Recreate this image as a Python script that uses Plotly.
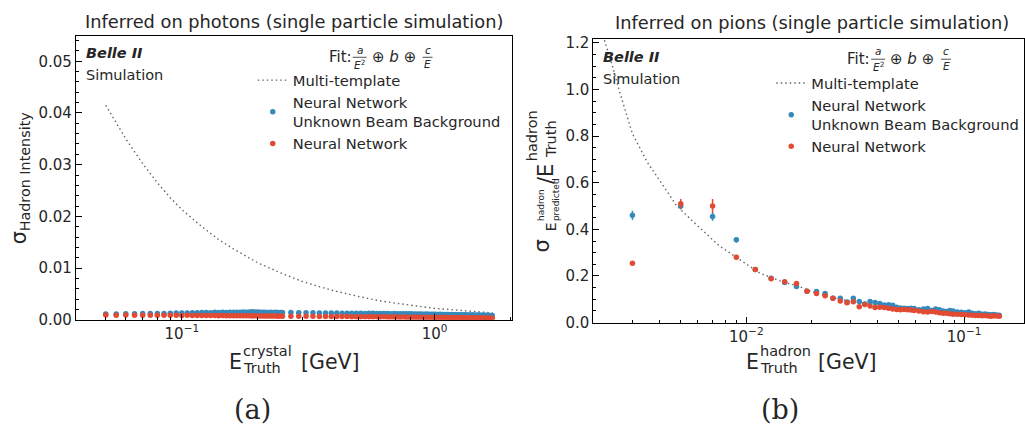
import plotly.graph_objects as go

# ---------------- photons panel (a) ----------------
e_photon = [
    0.050, 0.055, 0.060, 0.065, 0.070, 0.075, 0.080, 0.085, 0.090, 0.095,
    0.100, 0.105, 0.110, 0.115, 0.120, 0.125, 0.130, 0.135, 0.140, 0.145,
    0.150, 0.155, 0.160, 0.165, 0.170, 0.175, 0.180, 0.185, 0.190, 0.195,
    0.200, 0.205, 0.210, 0.215, 0.220, 0.225, 0.230, 0.235, 0.240, 0.245, 0.250,
    0.27, 0.29, 0.31, 0.33, 0.35, 0.37, 0.39, 0.41, 0.43,
    0.45, 0.47, 0.49, 0.51, 0.53, 0.55, 0.57, 0.59, 0.61, 0.63,
    0.65, 0.67, 0.69, 0.71, 0.73, 0.75, 0.77, 0.79, 0.81, 0.83,
    0.85, 0.87, 0.89, 0.91, 0.93, 0.95, 0.97, 0.99, 1.01, 1.03,
    1.05, 1.07, 1.09, 1.11, 1.13, 1.15, 1.17, 1.19, 1.21, 1.23,
    1.25, 1.27, 1.29, 1.31, 1.33, 1.35, 1.37, 1.39, 1.41, 1.43,
    1.45, 1.47, 1.49, 1.51, 1.53, 1.55, 1.57, 1.59, 1.61, 1.63,
    1.65, 1.67, 1.69,
]
sigma_photon_nn_bkg = [
    0.00110, 0.00112, 0.00115, 0.00114, 0.00118, 0.00120, 0.00122, 0.00121, 0.00125, 0.00128,
    0.00130, 0.00132, 0.00135, 0.00133, 0.00138, 0.00140, 0.00137, 0.00142, 0.00141, 0.00144,
    0.00140, 0.00143, 0.00146, 0.00142, 0.00145, 0.00148, 0.00144, 0.00150, 0.00152, 0.00147,
    0.00149, 0.00145, 0.00143, 0.00146, 0.00141, 0.00144, 0.00140, 0.00142, 0.00139, 0.00141, 0.00138,
    0.00140, 0.00137, 0.00135, 0.00136, 0.00132, 0.00130, 0.00128, 0.00129, 0.00126,
    0.00127, 0.00125, 0.00126, 0.00124, 0.00122, 0.00125, 0.00123, 0.00121, 0.00120, 0.00122,
    0.00119, 0.00117, 0.00118, 0.00116, 0.00115, 0.00117, 0.00114, 0.00113, 0.00115, 0.00112,
    0.00110, 0.00112, 0.00109, 0.00108, 0.00110, 0.00107, 0.00105, 0.00106, 0.00104, 0.00103,
    0.00105, 0.00102, 0.00100, 0.00101, 0.00099, 0.00098, 0.00100, 0.00097, 0.00096, 0.00095,
    0.00097, 0.00094, 0.00093, 0.00095, 0.00092, 0.00091, 0.00093, 0.00090, 0.00089, 0.00091,
    0.00088, 0.00087, 0.00089, 0.00086, 0.00085, 0.00087, 0.00084, 0.00083, 0.00085, 0.00082,
    0.00081, 0.00083, 0.00080,
]
sigma_photon_nn = [
    0.00090, 0.00088, 0.00089, 0.00087, 0.00086, 0.00088, 0.00085, 0.00086, 0.00084, 0.00085,
    0.00083, 0.00084, 0.00082, 0.00083, 0.00081, 0.00082, 0.00080, 0.00081, 0.00079, 0.00080,
    0.00078, 0.00079, 0.00077, 0.00078, 0.00076, 0.00077, 0.00075, 0.00076, 0.00074, 0.00075,
    0.00073, 0.00074, 0.00072, 0.00073, 0.00071, 0.00072, 0.00070, 0.00071, 0.00069, 0.00070, 0.00068,
    0.00068, 0.00067, 0.00066, 0.00065, 0.00064, 0.00063, 0.00062, 0.00061, 0.00060,
    0.00060, 0.00059, 0.00058, 0.00059, 0.00057, 0.00056, 0.00057, 0.00055, 0.00054, 0.00055,
    0.00053, 0.00052, 0.00053, 0.00051, 0.00050, 0.00051, 0.00049, 0.00048, 0.00049, 0.00047,
    0.00046, 0.00047, 0.00045, 0.00046, 0.00044, 0.00045, 0.00043, 0.00044, 0.00042, 0.00043,
    0.00041, 0.00042, 0.00040, 0.00041, 0.00040, 0.00039, 0.00040, 0.00038, 0.00039, 0.00037,
    0.00038, 0.00036, 0.00037, 0.00036, 0.00035, 0.00036, 0.00034, 0.00035, 0.00034, 0.00033,
    0.00034, 0.00032, 0.00033, 0.00032, 0.00031, 0.00032, 0.00030, 0.00031, 0.00030, 0.00029,
    0.00030, 0.00029, 0.00028,
]
e_photon_fit = [0.05, 0.06, 0.07, 0.08, 0.09, 0.10, 0.12, 0.14, 0.16, 0.18, 0.20, 0.25,
                0.30, 0.35, 0.40, 0.50, 0.60, 0.70, 0.80, 1.0, 1.2, 1.4, 1.7]
sigma_photon_template = [0.0415, 0.0350, 0.0302, 0.0265, 0.0236, 0.0213, 0.0180, 0.0155,
                         0.0137, 0.0122, 0.0110, 0.0089, 0.0074, 0.0064, 0.0056, 0.0045,
                         0.0037, 0.0032, 0.0028, 0.0022, 0.0019, 0.0016, 0.0013]

# ---------------- pions panel (b) ----------------
e_pion = [
    0.003, 0.005, 0.007, 0.009, 0.011, 0.013, 0.015, 0.017, 0.019, 0.021,
    0.023, 0.025, 0.027, 0.029, 0.031, 0.033, 0.035, 0.037, 0.039, 0.041,
    0.043, 0.045, 0.047, 0.049, 0.051, 0.053, 0.055, 0.057, 0.059,
    0.062, 0.065, 0.068, 0.071, 0.074, 0.077, 0.080, 0.083, 0.086, 0.089,
    0.093, 0.097, 0.101, 0.105, 0.109, 0.113, 0.117, 0.121, 0.125, 0.129,
    0.133, 0.137, 0.141, 0.145,
]
sigma_pion_nn_bkg = [
    0.46, 0.50, 0.455, 0.355, 0.228, 0.19, 0.172, 0.155, 0.135, 0.133,
    0.125, 0.105, 0.105, 0.088, 0.105, 0.091, 0.080, 0.091, 0.086, 0.082,
    0.075, 0.077, 0.074, 0.066, 0.063, 0.062, 0.060, 0.062, 0.060,
    0.055, 0.058, 0.060, 0.052, 0.058, 0.055, 0.050, 0.048, 0.052, 0.050,
    0.045, 0.044, 0.042, 0.045, 0.040, 0.038, 0.040, 0.036, 0.037, 0.035,
    0.034, 0.035, 0.033, 0.032,
]
err_pion_nn_bkg = [
    0.020, 0.015, 0.018, 0.012, 0.006, 0.006, 0.005, 0.005, 0.004, 0.004,
    0.004, 0.004, 0.004, 0.003, 0.004, 0.003, 0.003, 0.003, 0.003, 0.003,
    0.003, 0.003, 0.003, 0.003, 0.003, 0.003, 0.003, 0.003, 0.003,
    0.003, 0.003, 0.003, 0.003, 0.003, 0.003, 0.003, 0.003, 0.003, 0.003,
    0.003, 0.003, 0.003, 0.003, 0.003, 0.003, 0.003, 0.003, 0.003, 0.003,
    0.003, 0.003, 0.003, 0.003,
]
sigma_pion_nn = [
    0.255, 0.51, 0.50, 0.28, 0.228, 0.188, 0.175, 0.168, 0.135, 0.125,
    0.115, 0.104, 0.093, 0.085, 0.090, 0.068, 0.078, 0.071, 0.065, 0.066,
    0.065, 0.062, 0.058, 0.056, 0.055, 0.056, 0.055, 0.054, 0.052,
    0.050, 0.047, 0.045, 0.048, 0.045, 0.042, 0.040, 0.040, 0.038, 0.036,
    0.036, 0.035, 0.034, 0.033, 0.032, 0.030, 0.031, 0.029, 0.030, 0.028,
    0.027, 0.029, 0.028, 0.027,
]
err_pion_nn = [
    0.006, 0.020, 0.030, 0.008, 0.005, 0.005, 0.004, 0.008, 0.004, 0.004,
    0.004, 0.003, 0.003, 0.003, 0.006, 0.003, 0.003, 0.003, 0.003, 0.003,
    0.003, 0.003, 0.003, 0.003, 0.003, 0.003, 0.003, 0.003, 0.003,
    0.003, 0.003, 0.003, 0.003, 0.003, 0.003, 0.003, 0.003, 0.003, 0.003,
    0.003, 0.003, 0.003, 0.003, 0.003, 0.003, 0.003, 0.003, 0.003, 0.003,
    0.003, 0.003, 0.003, 0.003,
]
e_pion_fit = [0.0022, 0.00243, 0.00264, 0.0030, 0.0035, 0.0040, 0.0048, 0.0059, 0.0075,
              0.009, 0.0115, 0.0142, 0.0175, 0.020, 0.025, 0.030, 0.040, 0.050, 0.060,
              0.080, 0.100, 0.120, 0.145]
sigma_pion_template = [1.23, 1.10, 0.98, 0.81, 0.69, 0.61, 0.50, 0.42, 0.33,
                       0.28, 0.213, 0.18, 0.155, 0.132, 0.107, 0.092, 0.075, 0.062, 0.055,
                       0.045, 0.038, 0.034, 0.030]

BLUE = "#348ABD"
RED = "#E24A33"
GREY = "#666666"
INK = "#262626"
FONT = "DejaVu Sans"
W, H = 1025, 442
DOTS = "1.5px,3px"


def fx(x):
    return x / W


def fy(y):
    return 1 - y / H


fig = go.Figure()

# panel (a)
fig.add_trace(go.Scatter(x=e_photon_fit, y=sigma_photon_template, mode="lines",
                         line=dict(color=GREY, width=1.4, dash=DOTS),
                         name="Multi-template", xaxis="x", yaxis="y", legend="legend"))
fig.add_trace(go.Scatter(x=e_photon, y=sigma_photon_nn_bkg, mode="markers",
                         marker=dict(color=BLUE, size=5.5),
                         name="Neural Network<br>Unknown Beam Background",
                         xaxis="x", yaxis="y", legend="legend"))
fig.add_trace(go.Scatter(x=e_photon, y=sigma_photon_nn, mode="markers",
                         marker=dict(color=RED, size=5.5),
                         name="Neural Network", xaxis="x", yaxis="y", legend="legend"))

# panel (b)
fig.add_trace(go.Scatter(x=e_pion_fit, y=sigma_pion_template, mode="lines",
                         line=dict(color=GREY, width=1.4, dash=DOTS),
                         name="Multi-template", xaxis="x2", yaxis="y2", legend="legend2"))
fig.add_trace(go.Scatter(x=e_pion, y=sigma_pion_nn_bkg, mode="markers",
                         marker=dict(color=BLUE, size=5.5),
                         error_y=dict(type="data", array=err_pion_nn_bkg, color=BLUE,
                                      thickness=1.5, width=0),
                         name="Neural Network<br>Unknown Beam Background",
                         xaxis="x2", yaxis="y2", legend="legend2"))
fig.add_trace(go.Scatter(x=e_pion, y=sigma_pion_nn, mode="markers",
                         marker=dict(color=RED, size=5.5),
                         error_y=dict(type="data", array=err_pion_nn, color=RED,
                                      thickness=1.5, width=0),
                         name="Neural Network", xaxis="x2", yaxis="y2", legend="legend2"))

axis_common = dict(showgrid=False, zeroline=False, showline=True, linecolor="black",
                   linewidth=1, mirror=True, ticks="inside", ticklen=6, tickwidth=1,
                   tickcolor="black", tickfont=dict(family=FONT, size=15, color=INK))

legend_common = dict(xanchor="left", yanchor="top", bgcolor="rgba(0,0,0,0)",
                     font=dict(family=FONT, size=14.7, color=INK),
                     tracegroupgap=2, itemwidth=30)

fig.update_layout(
    width=W, height=H,
    margin=dict(l=0, r=0, t=0, b=0),
    paper_bgcolor="white", plot_bgcolor="white",
    font=dict(family=FONT, color=INK),
    xaxis=dict(axis_common, type="log", domain=[fx(76), fx(513)], range=[-1.419, 0.308],
               anchor="y", tickvals=[0.1, 1], ticktext=["10<sup>−1</sup>", "10<sup>0</sup>"],
               minor=dict(ticks="inside", ticklen=3, tickcolor="black",
                          tickvals=[0.05, 0.06, 0.07, 0.08, 0.09, 0.2, 0.3, 0.4, 0.5,
                                    0.6, 0.7, 0.8, 0.9, 2])),
    yaxis=dict(axis_common, domain=[fy(325), fy(32)], range=[0, 0.0549], anchor="x",
               tickvals=[0, 0.01, 0.02, 0.03, 0.04, 0.05], tickformat=".2f",
               minor=dict(ticks="inside", ticklen=3, tickcolor="black", dtick=0.002)),
    xaxis2=dict(axis_common, type="log", domain=[fx(594), 1.0], range=[-2.702, -0.725],
                anchor="y2", tickvals=[0.01, 0.1],
                ticktext=["10<sup>−2</sup>", "10<sup>−1</sup>"],
                minor=dict(ticks="inside", ticklen=3, tickcolor="black",
                           tickvals=[0.003, 0.004, 0.005, 0.006, 0.007, 0.008, 0.009,
                                     0.02, 0.03, 0.04, 0.05, 0.06, 0.07, 0.08, 0.09])),
    yaxis2=dict(axis_common, domain=[fy(328), fy(35)], range=[0, 1.217], anchor="x2",
                tickvals=[0, 0.2, 0.4, 0.6, 0.8, 1.0, 1.2], tickformat=".1f",
                minor=dict(ticks="inside", ticklen=3, tickcolor="black", dtick=0.05)),
    legend=dict(legend_common, x=fx(253), y=fy(61)),
    legend2=dict(legend_common, x=fx(772), y=fy(64)),
    showlegend=True,
)

ann = []
shapes = []


def text(x, y, s, size=14, xanchor="left", yanchor="middle", angle=0, family=FONT, color=INK):
    ann.append(dict(x=fx(x), y=fy(y), xref="paper", yref="paper", text=s, showarrow=False,
                    xanchor=xanchor, yanchor=yanchor, textangle=angle,
                    font=dict(family=family, size=size, color=color)))


# titles
text(294, 17, "Inferred on photons (single particle simulation)", size=17.8, xanchor="center")
text(813, 18, "Inferred on pions (single particle simulation)", size=17.8, xanchor="center")

# experiment tags
for x0, y0 in [(84, 50), (602, 54)]:
    text(x0, y0, "<b><i>Belle II</i></b>", size=14.5)
    text(x0, y0 + 22, "Simulation", size=14.5)


# fit formula header of each legend
def fit_label(x0, yc):
    text(x0, yc, "Fit:", size=15)
    xa = x0 + 33
    text(xa, yc - 8, "<i>a</i>", size=10.5, xanchor="center")
    text(xa, yc + 7, "<i>E</i><sup>2</sup>", size=10.5, xanchor="center")
    shapes.append(dict(type="line", xref="paper", yref="paper", x0=fx(xa - 7), x1=fx(xa + 7),
                       y0=fy(yc), y1=fy(yc), line=dict(color=INK, width=0.8)))
    text(xa + 10, yc, "⊕ <i>b</i> ⊕", size=15)
    xc = xa + 68
    text(xc, yc - 8, "<i>c</i>", size=10.5, xanchor="center")
    text(xc, yc + 7, "<i>E</i>", size=10.5, xanchor="center")
    shapes.append(dict(type="line", xref="paper", yref="paper", x0=fx(xc - 5), x1=fx(xc + 5),
                       y0=fy(yc), y1=fy(yc), line=dict(color=INK, width=0.8)))


fit_label(327, 54)
fit_label(846, 56)

# x-axis titles
for xE, sup in [(227, "crystal"), (745, "hadron")]:
    text(xE, 369, "E", size=20.5)
    text(xE + 14, 357, sup, size=14.5)
    text(xE + 14, 375, "Truth", size=14.5)
    text(xE + 72, 369, "[GeV]", size=20.5)

# left y-axis title
text(20, 178, "σ<sub>Hadron Intensity</sub>", size=20.5, xanchor="center", angle=-90)

# right y-axis title (rotated pieces)
text(543, 249, "σ", size=21, xanchor="center", angle=-90)
text(551, 229, "E", size=14, xanchor="center", angle=-90)
text(542, 206, "hadron", size=9, xanchor="center", angle=-90)
text(556, 201, "predicted", size=9, xanchor="center", angle=-90)
text(547, 174, "/E", size=21, xanchor="center", angle=-90)
text(532, 135, "hadron", size=14.5, xanchor="center", angle=-90)
text(551, 138, "Truth", size=14.5, xanchor="center", angle=-90)

# sub-figure captions
text(253, 418, "(a)", size=27, xanchor="center", family="DejaVu Serif")
text(781, 418, "(b)", size=27, xanchor="center", family="DejaVu Serif")

fig.update_layout(annotations=ann, shapes=shapes)
fig.write_html("out.html")
